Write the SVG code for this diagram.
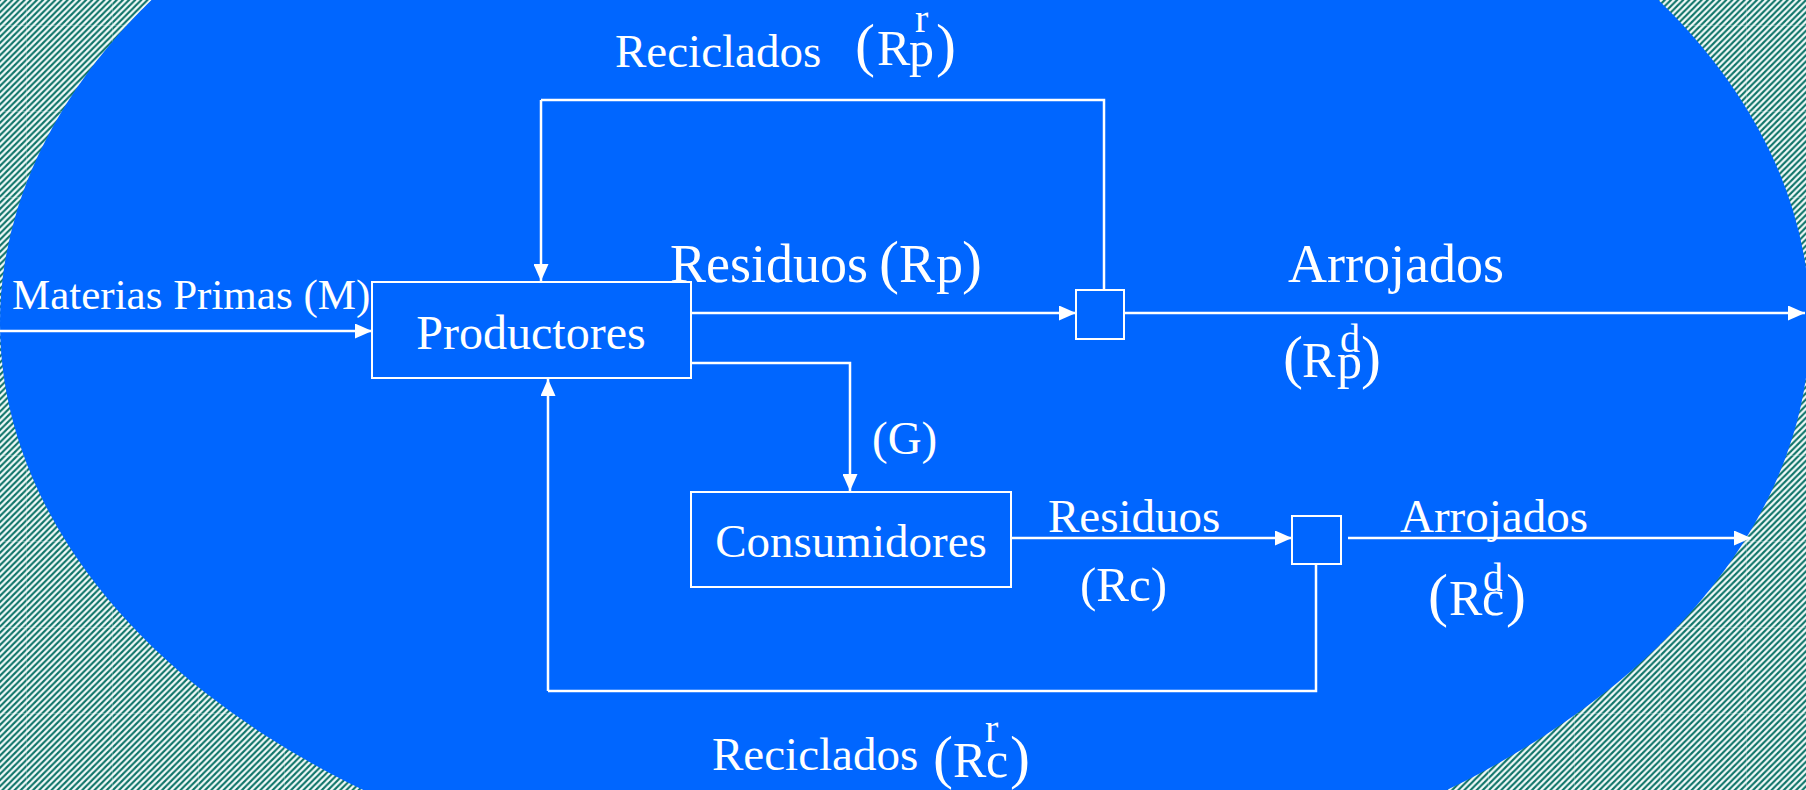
<svg xmlns="http://www.w3.org/2000/svg" width="1806" height="790" viewBox="0 0 1806 790">
<style>
.t{font-family:"Liberation Serif","Times New Roman",serif;fill:#fff}
.ln{fill:none;stroke:#fff;stroke-width:2.5}
.ar{marker-end:url(#ah)}
.bx{fill:none;stroke:#fff;stroke-width:2}
</style>
<defs>
<pattern id="stripes" width="6.143" height="6.143" patternUnits="userSpaceOnUse">
<rect width="6.143" height="6.143" fill="#f4fbfa"/>
<path d="M-1,7.143 L7.143,-1 M-1,1 L1,-1 M5.143,7.143 L7.143,5.143" stroke="#0f7469" stroke-width="2.1"/>
</pattern>
<pattern id="seams" width="86" height="86" patternUnits="userSpaceOnUse" patternTransform="translate(26,25)">
<path d="M0,0 H86 M0,0 V86" stroke="#ffffff" stroke-opacity="0.45" stroke-width="1" fill="none"/>
</pattern>
<marker id="ah" viewBox="0 0 17 15" refX="17" refY="7.5" markerWidth="17" markerHeight="15" markerUnits="userSpaceOnUse" orient="auto">
<path d="M0,0 L17,7.5 L0,15 z" fill="#fff"/>
</marker>
</defs>
<g id="background">
<rect width="1806" height="790" fill="url(#stripes)"/>
<rect width="1806" height="790" fill="url(#seams)"/>
<ellipse cx="905" cy="323" rx="905" ry="583" fill="#0066ff"/>
</g>
<g id="connectors">
<path class="ln ar" d="M0,331 H372"/>
<path class="ln" d="M1104,290 V100 H541"/>
<path class="ln ar" d="M541,100 V281"/>
<path class="ln ar" d="M691,313 H1076"/>
<path class="ln ar" d="M1124,313 H1805"/>
<path class="ln ar" d="M691,363 H850 V491"/>
<path class="ln ar" d="M1011,538 H1292"/>
<path class="ln ar" d="M1348,538 H1751"/>
<path class="ln" d="M1316,564 V691 H548"/>
<path class="ln ar" d="M548,691 V379"/>
</g>
<g id="productores">
<rect class="bx" x="372" y="282" width="319" height="96"/>
<text class="t" x="531" y="349" font-size="48" text-anchor="middle">Productores</text>
</g>
<g id="consumidores">
<rect class="bx" x="691" y="492" width="320" height="95"/>
<text class="t" x="851" y="557" font-size="47" text-anchor="middle">Consumidores</text>
</g>
<g id="junction-productores">
<rect class="bx" x="1076" y="290" width="48" height="49"/>
</g>
<g id="junction-consumidores">
<rect class="bx" x="1292" y="516" width="49" height="48"/>
</g>
<g id="labels">
<text class="t" x="12" y="309" font-size="43">Materias Primas (M)</text>
<text class="t" x="615" y="67" font-size="47">Reciclados</text>
<text class="t" font-size="60" x="855" y="65">(</text>
<text class="t" font-size="50" x="877" y="65">R</text>
<text class="t" font-size="50" x="909" y="66">p</text>
<text class="t" font-size="40" x="915" y="32">r</text>
<text class="t" font-size="60" x="936" y="65">)</text>

<text class="t" x="670" y="282" font-size="54">Residuos</text>
<text class="t" font-size="60" x="879" y="282">(</text>
<text class="t" font-size="54" x="899" y="282">R</text>
<text class="t" font-size="54" x="936" y="282">p</text>
<text class="t" font-size="60" x="962" y="282">)</text>

<text class="t" x="1288" y="282" font-size="54">Arrojados</text>
<text class="t" font-size="60" x="1283" y="377">(</text>
<text class="t" font-size="50" x="1302" y="377">R</text>
<text class="t" font-size="50" x="1337" y="378">p</text>
<text class="t" font-size="40" x="1340" y="352">d</text>
<text class="t" font-size="60" x="1361" y="377">)</text>

<text class="t" x="872" y="454" font-size="47">(G)</text>

<text class="t" x="1048" y="532" font-size="47">Residuos</text>
<text class="t" x="1080" y="601" font-size="49">(Rc)</text>

<text class="t" x="1400" y="532" font-size="47">Arrojados</text>
<text class="t" font-size="60" x="1428" y="615">(</text>
<text class="t" font-size="50" x="1449" y="615">R</text>
<text class="t" font-size="50" x="1482" y="615">c</text>
<text class="t" font-size="40" x="1483" y="591">d</text>
<text class="t" font-size="60" x="1506" y="615">)</text>

<text class="t" x="712" y="770" font-size="47">Reciclados</text>
<text class="t" font-size="60" x="933" y="777">(</text>
<text class="t" font-size="50" x="953" y="777">R</text>
<text class="t" font-size="50" x="986" y="777">c</text>
<text class="t" font-size="40" x="985" y="742">r</text>
<text class="t" font-size="60" x="1010" y="777">)</text>
</g>
</svg>
